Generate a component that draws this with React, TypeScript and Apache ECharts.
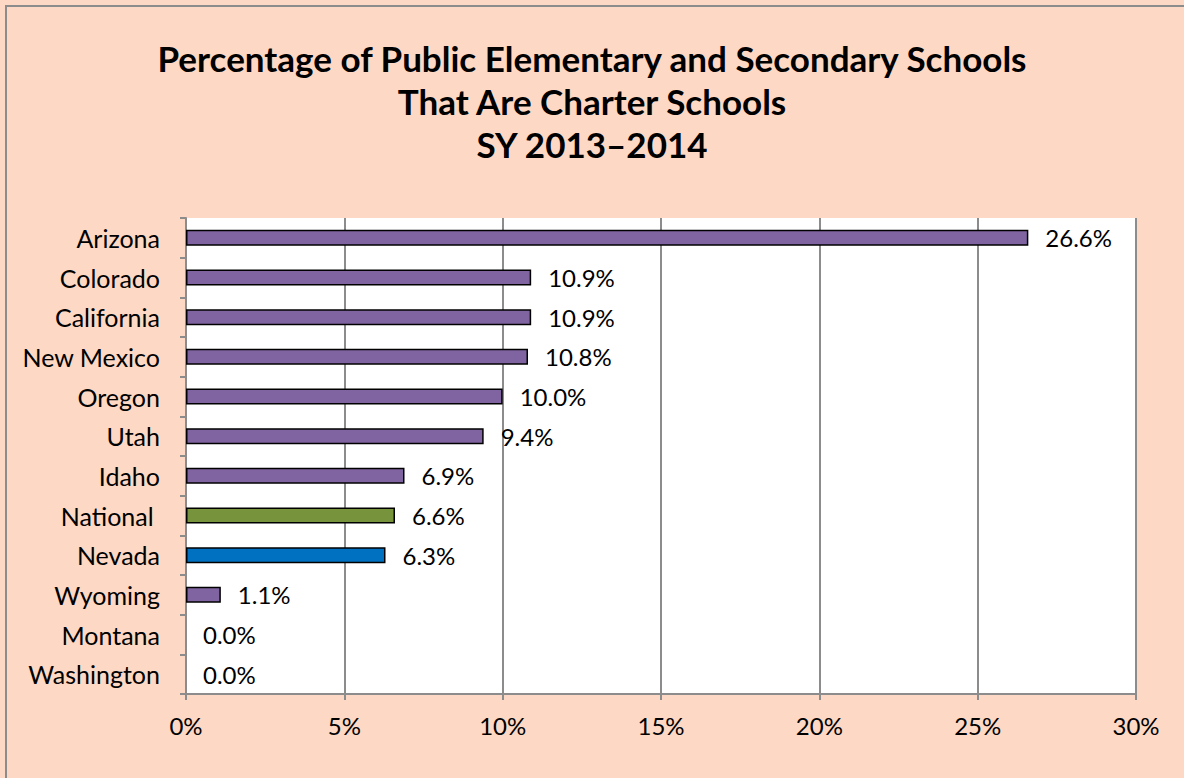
import React, { useEffect, useRef } from "react";
import * as echarts from "echarts";

const categories = [
  "Arizona",
  "Colorado",
  "California",
  "New Mexico",
  "Oregon",
  "Utah",
  "Idaho",
  "National ",
  "Nevada",
  "Wyoming",
  "Montana",
  "Washington",
];
const values = [26.6, 10.9, 10.9, 10.8, 10.0, 9.4, 6.9, 6.6, 6.3, 1.1, 0.0, 0.0];
const xTicks = [0, 5, 10, 15, 20, 25, 30];
const titleLines = [
  "Percentage of Public Elementary and Secondary Schools",
  "That Are Charter Schools",
  "SY 2013\u20132014",
];

const PURPLE = "#8064A2";
const GREEN = "#77933C";
const BLUE = "#0070C0";
const FONT = "Lato, 'Open Sans', sans-serif";

export default function App() {
  const ref = useRef<HTMLDivElement>(null);
  useEffect(() => {
    document.body.style.margin = "0";
    if (!ref.current) return;
    const chart = echarts.init(ref.current, undefined, { renderer: "svg" });
    const colorFor = (name: string) =>
      name.trim() === "National" ? GREEN : name === "Nevada" ? BLUE : PURPLE;
    const catsRev = [...categories].reverse();
    const valsRev = [...values].reverse();
    chart.setOption({
      animation: false,
      backgroundColor: "#FDD8C4",
      textStyle: { fontFamily: FONT },
      title: {
        text: titleLines.join("\n"),
        left: "center",
        top: 31,
        textStyle: {
          fontFamily: FONT,
          fontSize: 35,
          fontWeight: "bold",
          color: "#000",
          lineHeight: 43,
        },
      },
      graphic: [
        {
          type: "rect",
          shape: { x: 6, y: 6, width: 1300, height: 900 },
          style: { fill: "none", stroke: "#8c8c8c", lineWidth: 2 },
          silent: true,
        },
      ],
      grid: {
        left: 186,
        top: 218,
        right: 48,
        bottom: 84,
        show: true,
        backgroundColor: "#ffffff",
        borderWidth: 0,
        containLabel: false,
      },
      xAxis: {
        type: "value",
        min: xTicks[0],
        max: xTicks[xTicks.length - 1],
        interval: 5,
        axisLine: { show: true, lineStyle: { color: "#8c8c8c", width: 2 } },
        axisTick: { show: true, length: 6, lineStyle: { color: "#8c8c8c", width: 2 } },
        splitLine: { show: true, lineStyle: { color: "#8c8c8c", width: 2 } },
        axisLabel: {
          formatter: (v: number) => v + "%",
          fontSize: 24,
          color: "#000",
          fontFamily: FONT,
          margin: 19,
        },
      },
      yAxis: {
        type: "category",
        data: catsRev,
        axisLine: { show: true, lineStyle: { color: "#8c8c8c", width: 2 } },
        axisTick: { show: true, length: 6, lineStyle: { color: "#8c8c8c", width: 2 } },
        axisLabel: {
          fontSize: 25,
          color: "#000",
          fontFamily: FONT,
          margin: 26,
        },
      },
      series: [
        {
          type: "bar",
          barWidth: 16,
          data: valsRev.map((v, i) => ({
            value: v,
            itemStyle: {
              color: colorFor(catsRev[i]),
              borderColor: "#000",
              borderWidth: v === 0 ? 0 : 1.5,
            },
          })),
          label: {
            show: true,
            position: "right",
            distance: 17,
            formatter: (p: any) => Number(p.value).toFixed(1) + "%",
            fontSize: 24,
            color: "#000",
            fontFamily: FONT,
          },
        },
      ],
    });
    return () => chart.dispose();
  }, []);
  return <div ref={ref} style={{ width: 1184, height: 778 }} />;
}
